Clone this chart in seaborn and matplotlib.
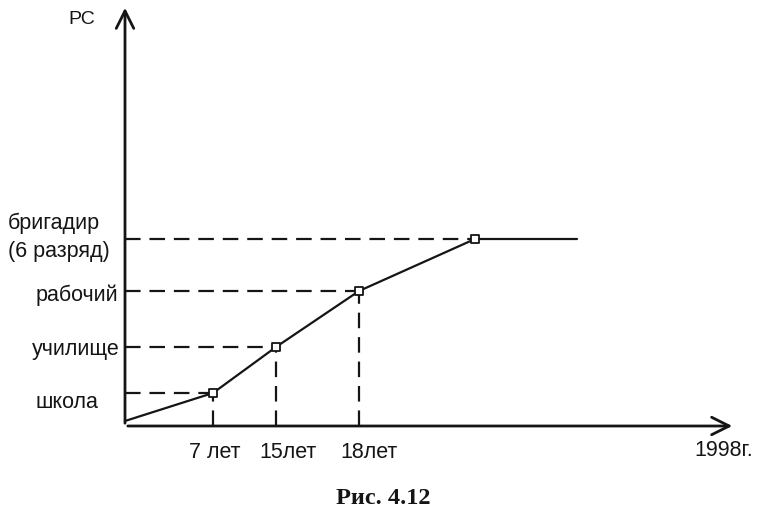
import pandas as pd
import seaborn as sns
import matplotlib.pyplot as plt

sns.set_theme(style="white")
plt.rcParams["font.family"] = ["Liberation Sans", "DejaVu Sans"]

# career path: position along time axis and level reached
stages = ["старт", "школа", "училище", "рабочий", "бригадир", "1998"]
time_pos = [0.0, 8.8, 15.1, 23.4, 35.0, 45.2]
level = [0.5, 3.3, 7.9, 13.5, 18.7, 18.7]

# y-axis level labels (text, right edge x, y)
level_labels = ["школа", "училище", "рабочий"]
level_label_y = [2.3, 7.6, 13.1]
level_label_x = [-2.7, -0.5, -0.7]

# x-axis labels
age_labels = ["7 лет", "15лет", "18лет", "1998г."]
age_label_x = [9.0, 16.3, 24.4, 59.9]
age_label_y = [-2.7, -2.7, -2.7, -2.4]

df = pd.DataFrame({"stage": stages, "t": time_pos, "level": level})

fig = plt.figure(figsize=(7.61, 5.21), dpi=100)
ax = fig.add_axes([0, 0, 1, 1])
ax.set_xlim(-12.5, 63.6)
ax.set_ylim(-9.5, 42.6)
ax.axis("off")

ink = "#151515"

# dashed guides
marked = df.iloc[1:5]
ax.hlines(marked["level"], 0, marked["t"], colors=ink, linestyles=(0, (7, 4)), lw=1.6)
ax.vlines(marked["t"].iloc[:3], 0, marked["level"].iloc[:3], colors=ink,
          linestyles=(0, (7, 4)), lw=1.6)

# the career line
sns.lineplot(data=df, x="t", y="level", ax=ax, color=ink, lw=1.6, sort=False)
sns.scatterplot(data=marked, x="t", y="level", ax=ax, marker="s", s=30,
                facecolor="white", edgecolor=ink, linewidth=1.3, zorder=5)

# axes with arrows
ax.annotate("", xy=(0, 42.1), xytext=(0, 0),
            arrowprops=dict(arrowstyle="->,head_length=0.9,head_width=0.45",
                            color=ink, lw=2, mutation_scale=14))
ax.annotate("", xy=(61.0, 0), xytext=(0, 0),
            arrowprops=dict(arrowstyle="->,head_length=0.9,head_width=0.45",
                            color=ink, lw=2, mutation_scale=14))

fs = 15.5
ax.text(-4.3, 40.6, "РС", fontsize=14, ha="center", va="center", color=ink)
for txt, x, y in zip(level_labels, level_label_x, level_label_y):
    ax.text(x, y, txt, fontsize=fs, ha="right", va="center", color=ink)
ax.text(-11.7, 20.3, "бригадир", fontsize=fs, ha="left", va="center", color=ink)
ax.text(-11.7, 17.5, "(6 разряд)", fontsize=fs, ha="left", va="center", color=ink)
for txt, x, y in zip(age_labels, age_label_x, age_label_y):
    ax.text(x, y, txt, fontsize=fs, ha="center", va="center", color=ink)

ax.text(25.8, -7.2, "Рис. 4.12", fontsize=17.5, fontweight="bold", ha="center",
        va="center", family=["Liberation Serif", "DejaVu Serif"], color=ink)

fig.savefig("out.png", dpi=100)
